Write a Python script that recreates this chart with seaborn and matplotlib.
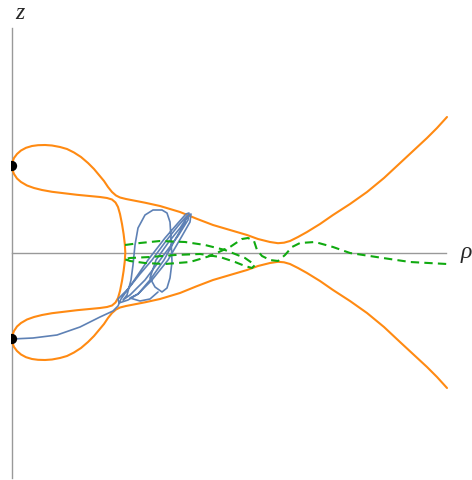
import matplotlib
matplotlib.use('Agg')
import matplotlib.pyplot as plt
import numpy as np
import seaborn as sns

# ── traced data (rho, z) ─────────────────────────────────────────────────────
# orange separatrix, upper half: far right -> neck -> loop -> crossing of z=0
orange_rho = [4.35, 4.25, 4.15, 4.01, 3.88, 3.72, 3.55, 3.38, 3.21, 3.08, 2.95, 2.86, 2.78,
              2.72, 2.66, 2.58, 2.46, 2.35, 2.18, 2.01, 1.84, 1.68,
              1.48, 1.33, 1.23, 1.14, 1.08, 1.04, 1.00, 0.96, 0.92, 0.87, 0.82, 0.76, 0.69,
              0.62, 0.55, 0.48, 0.40, 0.33, 0.26, 0.20, 0.14, 0.09, 0.05, 0.02, 0.005, 0.0,
              0.005, 0.02, 0.05, 0.09, 0.15, 0.22, 0.30, 0.40, 0.52, 0.65, 0.78, 0.88, 0.95,
              1.00, 1.035, 1.06, 1.08, 1.10, 1.116, 1.128, 1.133]
orange_z = [1.355, 1.245, 1.145, 1.015, 0.895, 0.745, 0.605, 0.485, 0.375, 0.285, 0.205, 0.155,
            0.115, 0.098, 0.093, 0.105, 0.135, 0.175, 0.225, 0.275, 0.34, 0.405,
            0.465, 0.498, 0.517, 0.535, 0.55, 0.57, 0.605, 0.655, 0.715, 0.775, 0.835, 0.895,
            0.955, 1.0, 1.035, 1.055, 1.07, 1.075, 1.073, 1.065, 1.047, 1.02, 0.985, 0.945,
            0.905, 0.865, 0.825, 0.785, 0.74, 0.705, 0.67, 0.645, 0.625, 0.607, 0.593, 0.577,
            0.565, 0.555, 0.545, 0.53, 0.50, 0.455, 0.385, 0.285, 0.185, 0.085, 0.0]

# blue orbit, starting at the lower fixed point
blue_rho = [0.00, 0.21, 0.45, 0.68, 0.88, 1.01, 1.06,
            1.09, 1.21, 1.36, 1.53, 1.66, 1.74, 1.77,
            1.76, 1.66, 1.48, 1.33, 1.18, 1.11,
            1.15, 1.19, 1.21, 1.23, 1.26, 1.33, 1.41, 1.50, 1.55, 1.58, 1.59, 1.60, 1.58,
            1.55, 1.50, 1.43, 1.38,
            1.40, 1.44, 1.56, 1.68, 1.76, 1.79,
            1.78, 1.70, 1.56, 1.40, 1.26, 1.16, 1.07, 1.06,
            1.16, 1.28, 1.40, 1.54, 1.66, 1.73, 1.75,
            1.72, 1.64, 1.52, 1.38, 1.26, 1.18, 1.28, 1.38, 1.46]
blue_z = [-0.865, -0.855, -0.825, -0.745, -0.645, -0.585, -0.535,
          -0.465, -0.295, -0.075, 0.145, 0.295, 0.385, 0.395,
          0.325, 0.165, -0.075, -0.275, -0.425, -0.475,
          -0.425, -0.275, -0.125, 0.075, 0.245, 0.375, 0.425, 0.425, 0.395, 0.305, 0.145,
          -0.095, -0.255, -0.355, -0.395, -0.345, -0.255,
          -0.195, -0.075, 0.095, 0.245, 0.365, 0.385,
          0.305, 0.165, -0.075, -0.275, -0.415, -0.475, -0.505, -0.465,
          -0.365, -0.215, -0.075, 0.115, 0.265, 0.345, 0.365,
          0.285, 0.145, -0.075, -0.275, -0.415, -0.455, -0.485, -0.465, -0.395]

# green dashed orbit
green_rho = [1.13, 1.28, 1.48, 1.73, 1.93, 2.13, 2.33, 2.43, 2.40, 2.33, 2.23, 2.08, 1.88, 1.63,
             1.38, 1.18, 1.12, 1.18, 1.33, 1.53, 1.78, 1.98, 2.18, 2.30, 2.36, 2.42, 2.45, 2.50,
             2.58, 2.66, 2.73, 2.80, 2.88, 3.03, 3.21, 3.38, 3.71, 3.98, 4.35]
green_z = [0.075, 0.095, 0.115, 0.105, 0.075, 0.025, -0.055, -0.125, -0.155, -0.135, -0.095,
           -0.045, -0.015, -0.025, -0.045, -0.055, -0.065, -0.085, -0.105, -0.115, -0.095,
           -0.035, 0.055, 0.135, 0.145, 0.115, 0.025, -0.035, -0.075, -0.085, -0.025, 0.055,
           0.095, 0.105, 0.055, -0.005, -0.055, -0.095, -0.115]

fixed_rho = [0.0, 0.0]
fixed_z = [0.865, -0.865]

# full orange curve: upper half + mirrored lower half
o_rho = orange_rho + orange_rho[::-1][1:]
o_z = orange_z + [-v for v in orange_z[::-1][1:]]

sns.set_style('white')

fig = plt.figure(figsize=(4.72, 4.80), dpi=100)
ax = fig.add_axes([11 / 472, 0, 461 / 472, 1])

sns.lineplot(x=o_rho, y=o_z, sort=False, estimator=None, color='#ff8a12', lw=1.5, ax=ax)
sns.lineplot(x=blue_rho, y=blue_z, sort=False, estimator=None, color='#5e81b5', lw=1.2, ax=ax)
sns.lineplot(x=green_rho, y=green_z, sort=False, estimator=None, color='#10aa10', lw=1.5,
             linestyle=(0, (4, 2.5)), ax=ax)
sns.scatterplot(x=fixed_rho, y=fixed_z, color='black', s=55, edgecolor='none', zorder=5, ax=ax)

ax.set_xlim(-0.01, 4.60)
ax.set_ylim(-2.275, 2.525)
ax.set_xticks([])
ax.set_yticks([])
for s in ['top', 'right']:
    ax.spines[s].set_visible(False)
ax.spines['left'].set_position(('data', 0))
ax.spines['bottom'].set_position(('data', 0))
ax.spines['left'].set_bounds(-2.255, 2.245)
ax.spines['bottom'].set_bounds(0, 4.34)
for s in ['left', 'bottom']:
    ax.spines[s].set_color('#999999')
    ax.spines[s].set_linewidth(1.0)
    ax.spines[s].set_zorder(0)
ax.patch.set_alpha(0)

ax.text(0.08, 2.39, 'z', fontsize=17, style='italic', family='Liberation Serif',
        ha='center', va='center', clip_on=False)
ax.text(4.54, 0.0, 'ρ', fontsize=17, style='italic', family='Liberation Serif',
        ha='center', va='center', clip_on=False)

fig.savefig('out.png', dpi=100)
